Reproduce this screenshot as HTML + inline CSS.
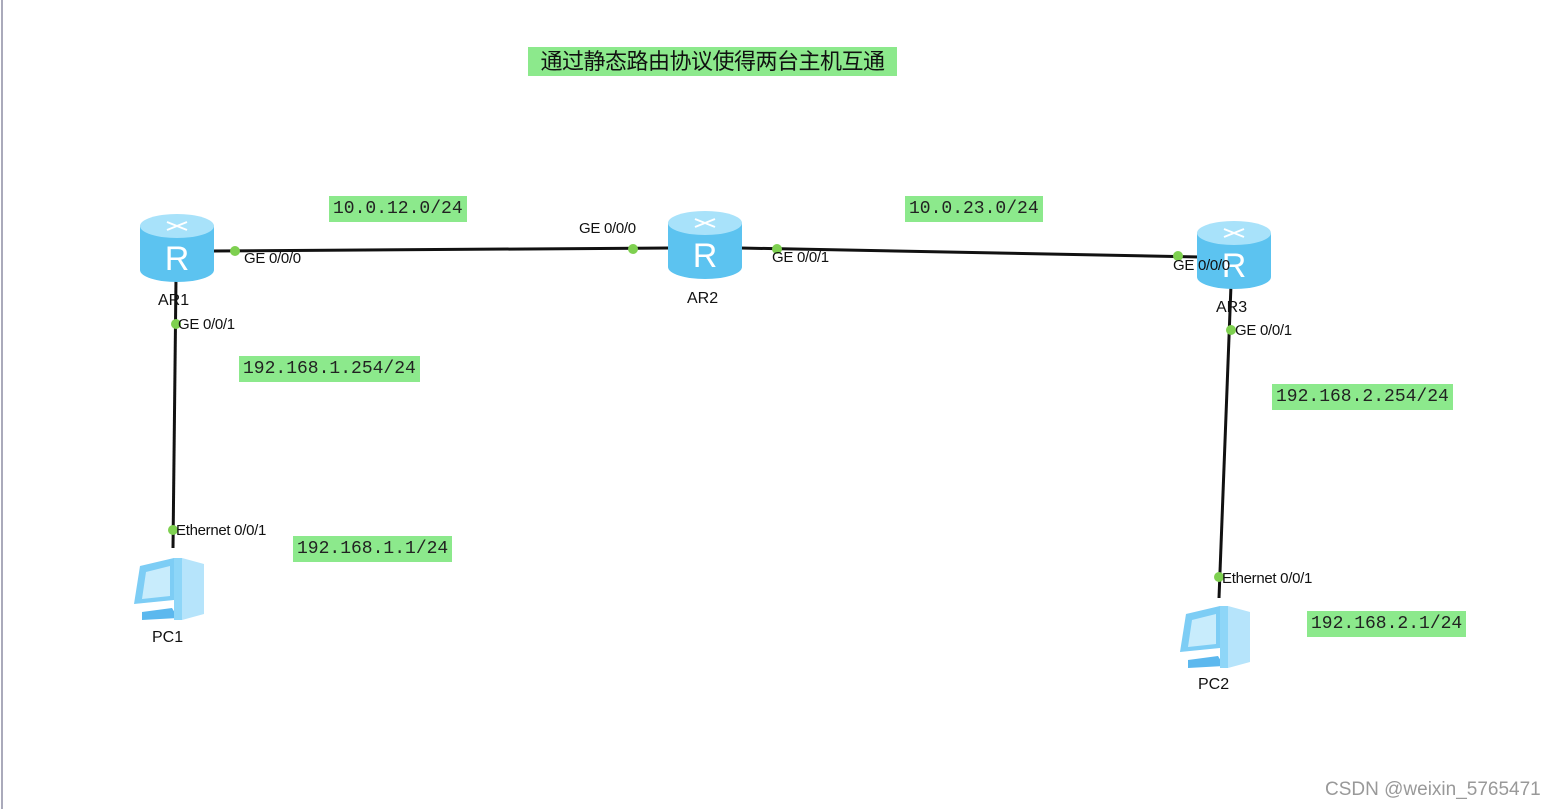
<!DOCTYPE html>
<html><head><meta charset="utf-8"><style>
body{margin:0;width:1559px;height:809px;background:#fff;position:relative;overflow:hidden;font-family:"Liberation Sans",sans-serif}
.g{position:absolute;background:#8ce98c;font-family:"Liberation Mono",monospace;font-size:18px;color:#222;line-height:26px;padding:0 4px}
.t{position:absolute;font-size:15px;color:#111;letter-spacing:-0.3px}
.n{position:absolute;font-size:16px;color:#111}
</style></head><body>
<div style="position:absolute;left:1px;top:0;width:2px;height:809px;background:#aab"></div>
<div style="position:absolute;left:528px;top:47px;width:369px;height:29px;background:#8ce98c;font-family:'Liberation Sans','Noto Sans CJK SC',sans-serif;font-size:22px;line-height:29px;text-align:center;color:#111;letter-spacing:-0.5px">通过静态路由协议使得两台主机互通</div>
<svg width="1559" height="809" style="position:absolute;left:0;top:0">
<defs>
<g id="r">
<path d="M-37,-22 L-37,22 A37,12 0 0 0 37,22 L37,-22 Z" fill="#5cc3f0"/>
<ellipse cx="0" cy="-22" rx="37" ry="12" fill="#a8e2fa"/>
<text x="0" y="22" text-anchor="middle" font-family="Liberation Sans" font-size="34" fill="#fff">R</text>
<path d="M-10,-26 l20,8 M10,-26 l-20,8" stroke="#fff" stroke-width="2"/>
</g>
<g id="pc">
<path d="M12,-30 l22,6 v50 l-22,6 z" fill="#b6e4fb"/>
<path d="M-30,-22 l34,-8 v42 l-40,4 z" fill="#7dcdf5"/>
<path d="M-24,-16 l24,-6 v30 l-28,3 z" fill="#c8ecfc"/>
<path d="M-28,24 l30,-4 l6,10 l-36,2 z" fill="#5cb8ee"/>
<path d="M4,-30 l8,0 v62 l-8,0 z" fill="#8ed6f8"/>
</g>
</defs>
<g stroke="#111" stroke-width="3" fill="none">
<line x1="213" y1="251" x2="670" y2="248"/>
<line x1="740" y1="248" x2="1200" y2="257"/>
<line x1="176" y1="278" x2="173" y2="548"/>
<line x1="1231" y1="285" x2="1219" y2="598"/>
</g>
<use href="#r" x="177" y="248"/>
<use href="#r" x="705" y="245"/>
<use href="#r" x="1234" y="255"/>
<use href="#pc" x="170" y="588"/>
<use href="#pc" x="1216" y="636"/>
<g fill="#7ed050">
<circle cx="235" cy="251" r="5"/><circle cx="633" cy="249" r="5"/><circle cx="777" cy="249" r="5"/><circle cx="1178" cy="256" r="5"/>
<circle cx="176" cy="324" r="5"/><circle cx="1231" cy="330" r="5"/><circle cx="173" cy="530" r="5"/><circle cx="1219" cy="577" r="5"/>
</g>
</svg>
<div class="t" style="left:244px;top:250px">GE 0/0/0</div>
<div class="t" style="left:579px;top:220px">GE 0/0/0</div>
<div class="t" style="left:772px;top:249px">GE 0/0/1</div>
<div class="t" style="left:1173px;top:257px">GE 0/0/0</div>
<div class="t" style="left:178px;top:316px">GE 0/0/1</div>
<div class="t" style="left:1235px;top:322px">GE 0/0/1</div>
<div class="t" style="left:176px;top:522px">Ethernet 0/0/1</div>
<div class="t" style="left:1222px;top:570px">Ethernet 0/0/1</div>
<div class="n" style="left:158px;top:292px">AR1</div>
<div class="n" style="left:687px;top:290px">AR2</div>
<div class="n" style="left:1216px;top:299px">AR3</div>
<div class="n" style="left:152px;top:629px">PC1</div>
<div class="n" style="left:1198px;top:676px">PC2</div>
<div class="g" style="left:329px;top:196px">10.0.12.0/24</div>
<div class="g" style="left:905px;top:196px">10.0.23.0/24</div>
<div class="g" style="left:239px;top:356px">192.168.1.254/24</div>
<div class="g" style="left:1272px;top:384px">192.168.2.254/24</div>
<div class="g" style="left:293px;top:536px">192.168.1.1/24</div>
<div class="g" style="left:1307px;top:611px">192.168.2.1/24</div>
<div style="position:absolute;left:1325px;top:779px;font-size:19px;color:#999">CSDN @weixin_5765471</div>
</body></html>
